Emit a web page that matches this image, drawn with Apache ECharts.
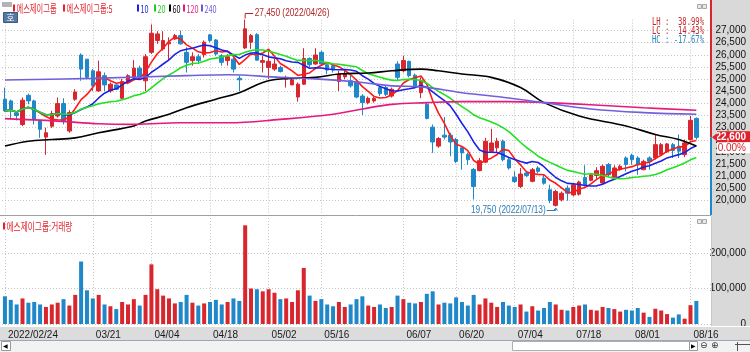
<!DOCTYPE html>
<html>
<head>
<meta charset="utf-8">
<script src="https://cdn.jsdelivr.net/npm/echarts@6/dist/echarts.min.js"></script>
<style>
html, body { margin: 0; padding: 0; background: #fff; }
#chart { width: 750px; height: 352px; }
</style>
</head>
<body>
<div id="chart"></div>
<script>
// 에스제이그룹 일봉 + 이동평균 + 거래량

var dates = [
  '2022/02/24','2022/02/25','2022/02/28','2022/03/02','2022/03/03','2022/03/04','2022/03/07','2022/03/08','2022/03/10','2022/03/11',
  '2022/03/14','2022/03/15','2022/03/16','2022/03/17','2022/03/18','2022/03/21','2022/03/22','2022/03/23','2022/03/24','2022/03/25',
  '2022/03/28','2022/03/29','2022/03/30','2022/03/31','2022/04/01','2022/04/04','2022/04/05','2022/04/06','2022/04/07','2022/04/08',
  '2022/04/11','2022/04/12','2022/04/13','2022/04/14','2022/04/15','2022/04/18','2022/04/19','2022/04/20','2022/04/21','2022/04/22',
  '2022/04/25','2022/04/26','2022/04/27','2022/04/28','2022/04/29','2022/05/02','2022/05/03','2022/05/04','2022/05/06','2022/05/09',
  '2022/05/10','2022/05/11','2022/05/12','2022/05/13','2022/05/16','2022/05/17','2022/05/18','2022/05/19','2022/05/20','2022/05/23',
  '2022/05/24','2022/05/25','2022/05/26','2022/05/27','2022/05/30','2022/05/31','2022/06/02','2022/06/03','2022/06/07','2022/06/08',
  '2022/06/09','2022/06/10','2022/06/13','2022/06/14','2022/06/15','2022/06/16','2022/06/17','2022/06/20','2022/06/21','2022/06/22',
  '2022/06/23','2022/06/24','2022/06/27','2022/06/28','2022/06/29','2022/06/30','2022/07/01','2022/07/04','2022/07/05','2022/07/06',
  '2022/07/07','2022/07/08','2022/07/11','2022/07/12','2022/07/13','2022/07/14','2022/07/15','2022/07/18','2022/07/19','2022/07/20',
  '2022/07/21','2022/07/22','2022/07/25','2022/07/26','2022/07/27','2022/07/28','2022/07/29','2022/08/01','2022/08/02','2022/08/03',
  '2022/08/04','2022/08/05','2022/08/08','2022/08/09','2022/08/10','2022/08/11','2022/08/12','2022/08/16','2022/08/17'
];

var opens = [
  24170,24100,23600,23130,24330,24100,23270,22610,23060,23480,
  23990,22860,24170,25990,25820,25340,24510,25140,24510,24760,
  24210,24860,25070,25450,24930,26100,26590,26240,26450,26650,
  26790,26100,25760,25920,26000,26820,26610,25960,25760,25820,
  25030,26280,26520,26830,25690,25480,25410,25480,25000,24760,
  24260,24790,25850,25620,26100,25590,25550,24900,25090,24930,
  24860,24300,24030,24100,24650,24650,24300,25620,25340,25730,
  25160,24440,23960,23020,22240,22690,22690,22510,22170,21890,
  21280,21230,21580,22030,22170,22440,21680,20960,20580,21130,
  20790,21340,20920,20440,19800,20030,20510,20230,20260,20950,
  20830,21030,20720,21480,20960,21270,21750,21860,21750,21270,
  21750,21750,21890,22000,22300,22240,21890,22510,23380
];
var closes = [
  23690,23750,23500,24130,24100,23340,22930,22790,23580,23990,
  23270,23620,24470,25410,25070,24720,25300,24760,24790,24580,
  24900,25140,25450,25090,25920,26890,26860,26590,26520,26790,
  26450,25690,25920,25760,26520,26590,26030,25690,25920,25410,
  24970,27070,26790,25780,25760,25730,25620,25310,25070,24960,
  24790,25850,25590,25990,25620,25370,25370,25200,25230,24720,
  24260,24030,24210,24200,24400,24370,24580,25070,25760,25140,
  24720,24930,23380,22410,22550,22610,22410,21610,21960,21680,
  20580,21640,22440,22370,22440,21680,21340,20780,21090,21030,
  21270,21200,20710,20000,20370,20300,20300,20650,20760,20650,
  21060,21230,21410,21060,21340,21410,21480,21680,21480,21610,
  21610,22300,22300,22330,22060,22030,22370,23300,22600
];
var lows = [
  23650,23340,23300,23060,23960,23130,22580,21880,22990,23410,
  23130,22790,24100,24930,25000,24510,24480,24510,24440,24550,
  24170,24790,25000,25000,24510,26030,26450,26170,25760,26620,
  26420,25270,25550,25620,25890,26520,25960,25550,25550,25270,
  24510,26240,26240,25760,25270,25000,25340,25270,24650,24760,
  24070,24760,25480,25590,25550,25200,25270,24510,25000,24650,
  24210,23520,23960,24030,24300,24300,24240,24930,25270,25070,
  24680,24210,23340,21960,22170,22510,21820,21540,21270,21470,
  20040,21200,21540,21960,21960,21610,21270,20720,20510,20960,
  20750,21130,20650,19890,19750,19960,19990,20170,20200,20580,
  20790,20890,20680,20990,20920,21230,21200,21470,21060,21240,
  21270,21680,21860,21960,21750,21750,21780,22470,22510
];
var highs = [
  24650,24150,23650,24240,24400,24150,23300,23000,23690,24240,
  24210,23720,24580,26060,25820,25410,25760,25270,24860,24790,
  25000,25200,25780,25550,26030,27250,26970,26970,26720,26860,
  27000,26310,26100,26030,26590,26860,26650,26030,26030,25890,
  25140,27450,26860,26890,25960,26200,25830,25550,25140,25030,
  24860,26270,25890,26270,26170,25690,25620,25340,25340,25140,
  24900,24380,24280,24280,24720,24720,24650,25730,25960,25760,
  25230,25070,24030,23130,22610,23440,22790,22580,22240,21960,
  21340,21750,22580,22950,22580,22510,21750,21200,21340,21200,
  21340,21410,21060,20650,20440,20370,20620,20720,20820,21450,
  21130,21370,21480,21550,21450,21480,21820,21930,21820,21680,
  21820,22720,22370,22370,22370,22720,22510,23480,23420
];
var volumes = [
  78000,68000,55000,72000,60000,62000,55000,48000,55000,60000,
  70000,52000,82000,176000,95000,72000,82000,55000,50000,42000,
  62000,55000,70000,52000,82000,168000,98000,80000,72000,58000,
  62000,82000,60000,52000,58000,62000,68000,55000,62000,72000,
  65000,278000,100000,98000,92000,98000,88000,70000,72000,62000,
  95000,158000,80000,65000,70000,55000,50000,62000,48000,55000,
  70000,78000,52000,48000,55000,45000,48000,80000,70000,60000,
  58000,62000,85000,92000,55000,60000,58000,75000,62000,52000,
  82000,55000,72000,60000,48000,62000,52000,48000,55000,35000,
  50000,38000,45000,62000,55000,40000,38000,48000,52000,55000,
  40000,38000,48000,45000,42000,35000,40000,38000,45000,32000,
  20000,43000,38000,28000,18000,27000,15000,53000,65000
];

// 장기 이평선: 그림에서 읽은 값 [봉 번호, 가격]
var ma60Pts = [[0,22240],[4,22440],[8,22510],[12,22580],[16,22790],[22,23070],[24,23270],[28,23550],[31,23820],[36,24170],
  [40,24440],[44,24860],[47,25000],[53,25070],[57,25210],[62,25250],[66,25340],[71,25410],[74,25340],[78,25210],
  [83,25070],[88,24650],[92,24030],[98,23480],[106,23070],[111,22720],[115,22510],[118,22240]];
var ma120Pts = [[0,23370],[9,23270],[16,23160],[22,23135],[30,23200],[38,23200],[47,23340],[56,23550],[61,23770],[66,23960],
  [72,24030],[78,24070],[86,24070],[92,24030],[100,23940],[109,23820],[118,23715]];
var ma240Pts = [[0,24960],[15,25030],[31,25140],[38,25180],[47,25070],[53,25010],[61,24860],[66,24720],[71,24680],[78,24440],
  [86,24220],[92,24030],[100,23770],[109,23620],[118,23550]];

var labelIdx = [0, 15, 25, 35, 45, 54, 68, 77, 87, 97, 107, 117];

var UP = '#d8262e', DOWN = '#1f88c9';
var axisFont = "'Liberation Sans Narrow','Liberation Sans',sans-serif";
var cats = dates.concat(['', '']);

function calcMA(n) {
  var out = [];
  for (var i = 0; i < closes.length; i++) {
    var s = 0, c = 0;
    for (var j = Math.max(0, i - n + 1); j <= i; j++) { s += closes[j]; c++; }
    out.push(Math.round(s / c));
  }
  return out;
}

var candleData = [], volData = [];
for (var i = 0; i < dates.length; i++) {
  candleData.push([opens[i], closes[i], lows[i], highs[i]]);
  volData.push({ value: volumes[i], itemStyle: { color: closes[i] >= opens[i] ? UP : DOWN } });
}

function maLine(name, data, color, smooth) {
  return {
    name: name, type: 'line', data: data, xAxisIndex: 0, yAxisIndex: 0,
    smooth: smooth, showSymbol: false, symbol: 'none', silent: true, z: 3,
    lineStyle: { color: color, width: 1.6 }
  };
}

var vLines = labelIdx.map(function (i) { return { xAxis: dates[i] }; });
var vLineStyle = { symbol: ['none', 'none'], silent: true, z: 0, label: { show: false },
  lineStyle: { color: '#c4c4c4', type: [1, 2], width: 1 }, data: vLines };

var dom = document.getElementById('chart');
var myChart = echarts.init(dom);
var option = {
  animation: false,
  backgroundColor: '#fff',
  grid: [
    { left: 2, right: 39, top: 18.36, height: 194.28, outerBoundsMode: 'none' },
    { left: 2, right: 39, top: 217.5, height: 106.5, outerBoundsMode: 'none' }
  ],
  xAxis: [
    { type: 'category', gridIndex: 0, data: cats, boundaryGap: true,
      axisLine: { show: false }, axisTick: { show: false }, axisLabel: { show: false }, splitLine: { show: false } },
    { type: 'category', gridIndex: 1, data: cats, boundaryGap: true,
      axisLine: { show: false }, axisTick: { show: false }, splitLine: { show: false },
      axisLabel: {
        interval: function (idx) { return labelIdx.indexOf(idx) >= 0; },
        formatter: function (v, idx) { return idx === 0 ? v : v.slice(5); },
        align: 'left', padding: [0, 0, 0, 3], margin: 6,
        color: '#1a1a1a', fontSize: 10, fontFamily: axisFont
      } }
  ],
  yAxis: [
    { type: 'value', gridIndex: 0, position: 'right', min: 19500, max: 27500, interval: 500,
      axisLine: { show: false }, axisTick: { show: false },
      axisLabel: { showMinLabel: false, showMaxLabel: false, align: 'right', margin: 35,
        color: '#111', fontSize: 10, fontFamily: axisFont,
        formatter: function (v) { return echarts.format.addCommas(v); } },
      splitLine: { showMinLine: false, showMaxLine: false, lineStyle: { color: '#c4c4c4', type: [1, 2] } } },
    { type: 'value', gridIndex: 1, position: 'right', min: 0, max: 300000, interval: 100000,
      axisLine: { show: false }, axisTick: { show: false },
      axisLabel: { showMaxLabel: false, align: 'right', margin: 35,
        color: '#111', fontSize: 10, fontFamily: axisFont,
        formatter: function (v) { return echarts.format.addCommas(v); } },
      splitLine: { showMaxLine: false, lineStyle: { color: '#c4c4c4', type: [1, 2] } } }
  ],
  series: [
    { name: '에스제이그룹', type: 'candlestick', xAxisIndex: 0, yAxisIndex: 0, data: candleData,
      barWidth: 4, z: 2,
      itemStyle: { color: UP, color0: DOWN, borderColor: UP, borderColor0: DOWN, borderWidth: 1 },
      markLine: vLineStyle },
    maLine('5', calcMA(5), '#ff1a1a', false),
    maLine('10', calcMA(10), '#1a22e6', false),
    maLine('20', calcMA(20), '#22e022', false),
    maLine('60', ma60Pts, '#000000', 0.4),
    maLine('120', ma120Pts, '#e6197f', 0.4),
    maLine('240', ma240Pts, '#7060dc', 0.4),
    { name: '거래량', type: 'bar', xAxisIndex: 1, yAxisIndex: 1, data: volData, barWidth: 4, z: 2,
      markLine: vLineStyle }
  ]
};

if (option && typeof option === "object") {
    myChart.setOption(option, true);
}

// 그림 위 글자, 현재가 표시 등
function rect(x, y, w, h, fill, z, stroke) {
  return { type: 'rect', z: z, shape: { x: x, y: y, width: w, height: h },
    style: { fill: fill, stroke: stroke || null, lineWidth: stroke ? 1 : 0 }, silent: true };
}
function txt(x, y, s, color, font, align, sx) {
  return { type: 'text', x: x, y: y, scaleX: sx || 1, z: 100, silent: true,
    style: { text: s, fill: color, font: font, textAlign: align || 'left', align: align || 'left',
      textVerticalAlign: 'middle', verticalAlign: 'middle' } };
}
function pline(pts, color, w, z) {
  return { type: 'polyline', z: z || 100, silent: true, shape: { points: pts },
    style: { stroke: color, lineWidth: w || 1, fill: null } };
}

var hiVal = Math.max.apply(null, highs), loVal = Math.min.apply(null, lows);
var hiIdx = highs.indexOf(hiVal), loIdx = lows.indexOf(loVal);
var last = closes[closes.length - 1];
var hiP = myChart.convertToPixel({ xAxisIndex: 0, yAxisIndex: 0 }, [hiIdx, hiVal]);
var loP = myChart.convertToPixel({ xAxisIndex: 0, yAxisIndex: 0 }, [loIdx, loVal]);
var lastY = myChart.convertToPixel({ yAxisIndex: 0 }, last);
var pct = function (v) { return (v * 100).toFixed(2) + '%'; };
var korFont = "11px 'Noto Sans CJK KR'";
var numFont = "10px 'Liberation Sans'";
var monoFont = "10px 'DejaVu Sans Mono'";

var g = [];
// 배경
g.push(rect(711, 0, 39, 326, '#d9d9d9', -1));
g.push(rect(0, 326, 750, 14, '#dcdcdc', -1));
g.push(rect(0, 340, 750, 12, '#f2f2f2', -1));
g.push(pline([[0, 326.5], [750, 326.5]], '#ffffff', 1, 1));
g.push(pline([[0, 340.5], [750, 340.5]], '#9aa7b8', 1, 1));
g.push(pline([[0, 215.5], [711, 215.5]], '#a0a0a0', 1, 1));
g.push(pline([[711.5, 217], [711.5, 326]], '#c8c8c8', 1, 1));
// 하단 스크롤 영역
g.push(rect(1.5, 341.5, 9, 9, '#ffffff', 1, '#9a9a9a'));
g.push(txt(3, 346, '◀', '#000', "6px 'DejaVu Sans'"));
g.push(rect(512.5, 341.5, 177, 9, '#ffffff', 1, '#b0b0b0'));
g.push(rect(689.5, 341.5, 8, 9, '#ffffff', 1, '#9a9a9a'));
g.push(txt(691, 346, '▶', '#000', "6px 'DejaVu Sans'"));
g.push(txt(700, 346, '⊖', '#333', "9px 'DejaVu Sans'"));
g.push(txt(711, 346, '⊕', '#333', "9px 'DejaVu Sans'"));
g.push(pline([[735, 344.5], [750, 344.5]], '#555', 1, 1));
g.push(pline([[737.5, 342], [737.5, 351]], '#555', 1, 1));

// 범례
g.push(rect(2, 2, 10, 5, '#b4b4b4', 10));
var legendItems = [
  [13, '에스제이그룹', '#e3232b'], [63, '에스제이그룹:5', '#e3232b'], [137, '10', '#1a22e6'],
  [154, '20', '#1ccc1c'], [169, '60', '#000000'], [183, '120', '#e6197f'], [201, '240', '#6a5ad8']
];
legendItems.forEach(function (it) {
  g.push(rect(it[0], 4.5, 2, 7, it[2], 100));
  g.push(txt(it[0] + 3.5, 8.5, it[1], it[2], korFont, 'left', 0.66));
});
g.push(rect(3.5, 12.5, 14, 10, '#5679a4', 100, '#3c5a80'));
g.push(txt(10.5, 17.8, '호', '#ffffff', "9px 'Noto Sans CJK KR'", 'center'));
g.push(rect(3, 222.5, 2, 7, '#e3232b', 100));
g.push(txt(6.5, 226.5, '에스제이그룹:거래량', '#e3232b', korFont, 'left', 0.7));
// 창 아이콘
[[697.5, 4.5], [702.5, 4.5], [697.5, 219.5], [702.5, 219.5]].forEach(function (p) {
  g.push(rect(p[0], p[1], 4, 4, '#e8e8e8', 100, '#a8a8a8'));
});

// 최고가 / 최저가
g.push(pline([[hiP[0], hiP[1] - 1], [hiP[0], 13.5], [hiP[0] + 8, 13.5]], '#b22424', 1));
g.push(txt(hiP[0] + 9.5, 13.5, echarts.format.addCommas(hiVal) + ' (' + dates[hiIdx] + ')', '#b22424', numFont, 'left', 0.83));
g.push(pline([[loP[0] - 9, 210.5], [loP[0], 210.5], [loP[0], loP[1] + 1.5]], '#2b7db5', 1));
g.push(pline([[loP[0] - 2, loP[1] + 4], [loP[0], loP[1] + 1.5], [loP[0] + 2, loP[1] + 4]], '#2b7db5', 1));
g.push(txt(loP[0] - 10, 210.5, echarts.format.addCommas(loVal) + ' (' + dates[loIdx] + ')', '#2b7db5', numFont, 'right', 0.83));

// LH / LC / HC
g.push(txt(704, 22.5, 'LH :  ' + pct(hiVal / loVal - 1), '#c4282d', monoFont, 'right', 0.72));
g.push(txt(704, 31.5, 'LC :  ' + pct(last / loVal - 1), '#c4282d', monoFont, 'right', 0.72));
g.push(txt(704, 40.5, 'HC : ' + pct(last / hiVal - 1), '#2b86c0', monoFont, 'right', 0.72));

// 현재가 세로선 / 라벨
g.push(pline([[711, 0], [711, lastY]], '#d8262e', 2));
g.push(pline([[711, lastY], [711, 215]], '#1f88c9', 2));
g.push({ type: 'polygon', z: 101, silent: true,
  shape: { points: [[712, lastY], [717, lastY - 4], [717, lastY + 4]] }, style: { fill: '#e0202a' } });
g.push(rect(717, lastY - 6, 33, 11, '#e0202a', 100));
g.push(txt(746, lastY - 0.5, echarts.format.addCommas(last), '#ffffff', "bold 10px " + axisFont, 'right'));
g.push(rect(717, lastY + 5, 33, 11, '#ffffff', 100));
g.push(txt(746, lastY + 10.5, '0.00%', '#e0202a', "10px " + axisFont, 'right'));

myChart.setOption({ graphic: g });
</script>
</body>
</html>
